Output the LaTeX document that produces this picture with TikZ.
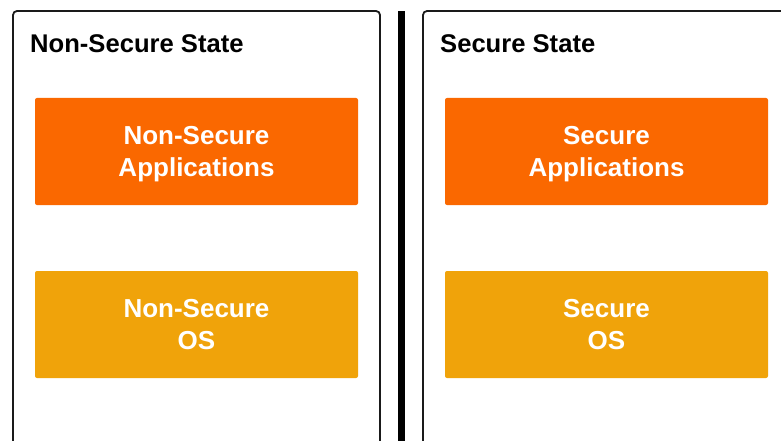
\documentclass[tikz,border=0pt]{standalone}
\usepackage{fontspec}
\setmainfont{Liberation Sans}
\definecolor{nsorange}{HTML}{FA6800}
\definecolor{nsamber}{HTML}{F0A30A}
\definecolor{edge}{HTML}{1A1A1A}
\begin{document}
\begin{tikzpicture}[x=1pt,y=-1pt,
  panel/.style={draw=edge,line width=1.8pt,rounded corners=4pt,fill=white},
  layerbox/.style={rounded corners=2pt,minimum width=323pt,minimum height=107pt,
    inner sep=0pt,text depth=0pt,text=white,align=center,
    font=\bfseries\fontsize{26}{32}\selectfont},
  paneltitle/.style={anchor=base west,inner sep=0pt,font=\bfseries\fontsize{25.6}{30}\selectfont}]
  \useasboundingbox (0,0) rectangle (781,441);
  % state panels, running off the bottom / right edge
  \draw[panel] (13,460) -- (13,11) -- (380,11) -- (380,460);
  \draw[panel] (423,460) -- (423,11) -- (800,11);
  % divider between the two worlds
  \fill[black] (398,11) rectangle (405,441);
  % titles
  \node[paneltitle] (nst) at (30,53) {Non-Secure State};
  \node[paneltitle] (sst) at (440,53) {Secure State};
  % software layers
  \node[layerbox,fill=nsorange] (nsapp) at (196.5,151.5) {Non-Secure\\Applications};
  \node[layerbox,fill=nsamber] (nsos) at (196.5,324.5) {Non-Secure\\OS};
  \node[layerbox,fill=nsorange] (sapp) at (606.5,151.5) {Secure\\Applications};
  \node[layerbox,fill=nsamber] (sos) at (606.5,324.5) {Secure\\OS};
\end{tikzpicture}
\end{document}
